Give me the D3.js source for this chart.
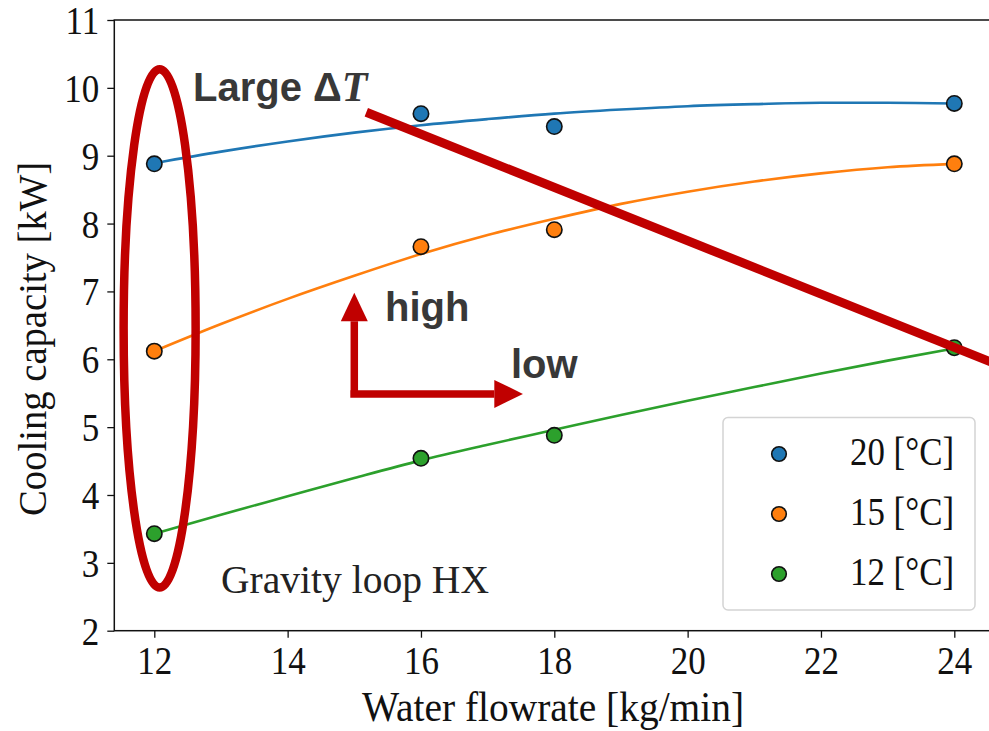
<!DOCTYPE html>
<html>
<head>
<meta charset="utf-8">
<script src="https://cdn.jsdelivr.net/npm/d3@7"></script>
<style>
  html, body { margin: 0; padding: 0; background: #fff; }
  svg { display: block; }
</style>
</head>
<body>
<svg id="chart" width="989" height="731"></svg>
<script>
// measured points
const flow = [12, 16, 18, 24];
const cap20 = [8.88, 9.62, 9.43, 9.77];
const cap15 = [6.12, 7.66, 7.91, 8.88];
const cap12 = [3.43, 4.54, 4.88, 6.17];

// fitted curves
const fitFlow = [12, 13, 14, 15, 16, 17, 18, 19, 20, 21, 22, 23, 24];
const fit20 = [8.89, 9.06, 9.21, 9.34, 9.45, 9.54, 9.62, 9.68, 9.73, 9.76, 9.78, 9.78, 9.77];
const fit15 = [6.12, 6.52, 6.89, 7.23, 7.55, 7.83, 8.07, 8.29, 8.47, 8.62, 8.74, 8.83, 8.88];
const fit12 = [3.43, 3.71, 3.98, 4.25, 4.51, 4.74, 4.96, 5.18, 5.39, 5.59, 5.79, 5.98, 6.16];

const legendLabels = ["20 [°C]", "15 [°C]", "12 [°C]"];
const colors = ["#1f77b4", "#ff7f0e", "#2ca02c"];
const xTicks = [12, 14, 16, 18, 20, 22, 24];
const yTicks = [2, 3, 4, 5, 6, 7, 8, 9, 10, 11];

const width = 989, height = 731;
const margin = {top: 20, left: 114.3, bottom: 100.3};
const plotRight = 994.3;
const stretch = 1.17; // the serif text in the picture is drawn a bit tall

const svg = d3.select("#chart");

let x = d3.scaleLinear().domain([11.4, 24.6]).range([margin.left, plotRight]);
let y = d3.scaleLinear().domain([2, 11]).range([height - margin.bottom, margin.top]);

const serif = "'Liberation Serif', 'Times New Roman', serif";
const sans = "'Liberation Sans', Arial, sans-serif";

// axes
let xAxis = g => g
    .attr("transform", `translate(0,${y(2)})`)
    .call(d3.axisBottom(x).tickValues(xTicks).tickSize(7).tickPadding(5).tickFormat(d3.format("d")))
    .call(g => g.select(".domain").remove());

let yAxis = g => g
    .attr("transform", `translate(${x(11.4)},0)`)
    .call(d3.axisLeft(y).tickValues(yTicks).tickSize(7).tickPadding(8).tickFormat(d3.format("d")))
    .call(g => g.select(".domain").remove());

const gx = svg.append("g").call(xAxis);
const gy = svg.append("g").call(yAxis);
[gx, gy].forEach(g => {
    g.selectAll("line").attr("stroke", "#111").attr("stroke-width", 1.3);
    g.selectAll("text").attr("fill", "#111")
        .style("font-family", serif).style("font-size", "35px")
        .attr("transform", `scale(1,${stretch})`);
});
gx.selectAll("text").attr("dy", "0.71em");
gy.selectAll("text").attr("dy", "0.33em");

// frame
svg.append("rect")
    .attr("x", x(11.4)).attr("y", y(11))
    .attr("width", x(24.6) - x(11.4)).attr("height", y(2) - y(11))
    .attr("fill", "none").attr("stroke", "#111").attr("stroke-width", 1.5);

// helper for tall serif text
function tallText(px, py, str, size, len, extra) {
    let t = svg.append("text")
        .attr("transform", `translate(${px},${py}) ${extra || ""} scale(1,${stretch})`)
        .style("font-family", serif).style("font-size", size + "px").attr("fill", "#111")
        .text(str);
    if (len) t.attr("textLength", len).attr("lengthAdjust", "spacingAndGlyphs");
    return t;
}

// axis labels
tallText(553, 721, "Water flowrate [kg/min]", 36, 382).attr("text-anchor", "middle");
tallText(46, y(6.3), "Cooling capacity [kW]", 35, 354, "rotate(-90)").attr("text-anchor", "middle");

// fit lines and points
const fits = [fit20, fit15, fit12];
const caps = [cap20, cap15, cap12];

let line = d3.line()
    .x((d, i) => x(fitFlow[i]))
    .y(d => y(d))
    .curve(d3.curveMonotoneX);

fits.forEach((f, k) => {
    svg.append("path")
        .attr("d", line(f))
        .attr("fill", "none")
        .attr("stroke", colors[k])
        .attr("stroke-width", 2.6);
});

caps.forEach((c, k) => {
    svg.append("g").selectAll("circle").data(c).enter().append("circle")
        .attr("cx", (d, i) => x(flow[i]))
        .attr("cy", d => y(d))
        .attr("r", 7.7)
        .attr("fill", colors[k])
        .attr("stroke", "#111")
        .attr("stroke-width", 1.6);
});

// label inside the plot
tallText(x(13.0), y(2.55), "Gravity loop HX", 34, 268).attr("fill", "#222");

// legend
const lg = svg.append("g");
lg.append("rect")
    .attr("x", 723).attr("y", 417.5).attr("width", 252).attr("height", 192.5)
    .attr("rx", 5).attr("fill", "#fff").attr("fill-opacity", 0.85)
    .attr("stroke", "#d4d4d4").attr("stroke-width", 1.5);
legendLabels.forEach((lab, k) => {
    let cy = 454 + k * 60;
    lg.append("circle")
        .attr("cx", 779).attr("cy", cy).attr("r", 7.3)
        .attr("fill", colors[k]).attr("stroke", "#111").attr("stroke-width", 1.6);
    tallText(850, cy + 11, lab, 34, 104);
});

// red annotations (placed in data units)
const red = "#c00000";

svg.append("ellipse")
    .attr("cx", x(12.08)).attr("cy", y(6.455))
    .attr("rx", x(12.08 + 0.54) - x(12.08))
    .attr("ry", y(6.455) - y(6.455 + 3.82))
    .attr("fill", "none").attr("stroke", red).attr("stroke-width", 8.5);

svg.append("line")
    .attr("x1", x(15.18)).attr("y1", y(9.64))
    .attr("x2", x(24.6)).attr("y2", y(5.94))
    .attr("stroke", red).attr("stroke-width", 9);

// arrows
const corner = [15.0, 5.49];
svg.append("path")
    .attr("d", `M${x(corner[0])},${y(corner[1])}V${y(6.56)}M${x(corner[0]) - 4},${y(corner[1])}H${x(17.1)}`)
    .attr("fill", "none").attr("stroke", red).attr("stroke-width", 7.5);
svg.append("path")
    .attr("d", d3.line()([
        [x(corner[0]) - 13.5, y(6.56)], [x(corner[0]), y(6.98)], [x(corner[0]) + 13.5, y(6.56)]
    ]) + "Z")
    .attr("fill", red);
svg.append("path")
    .attr("d", d3.line()([
        [x(17.1), y(corner[1]) - 14], [x(17.53), y(corner[1])], [x(17.1), y(corner[1]) + 14]
    ]) + "Z")
    .attr("fill", red);

// annotation text
const dark = "#383838";
const large = svg.append("text")
    .attr("x", x(12.58)).attr("y", y(9.81))
    .style("font-family", sans).style("font-size", "40px").style("font-weight", "bold")
    .attr("fill", dark);
large.append("tspan").text("Large \u0394");
large.append("tspan")
    .style("font-family", serif).style("font-style", "italic").style("font-size", "42px")
    .text("T");

svg.append("text")
    .attr("x", x(15.46)).attr("y", y(6.56))
    .style("font-family", sans).style("font-size", "40px").style("font-weight", "bold")
    .attr("fill", dark).text("high");

svg.append("text")
    .attr("x", x(17.35)).attr("y", y(5.72))
    .style("font-family", sans).style("font-size", "40px").style("font-weight", "bold")
    .attr("fill", dark).text("low");
</script>
</body>
</html>
